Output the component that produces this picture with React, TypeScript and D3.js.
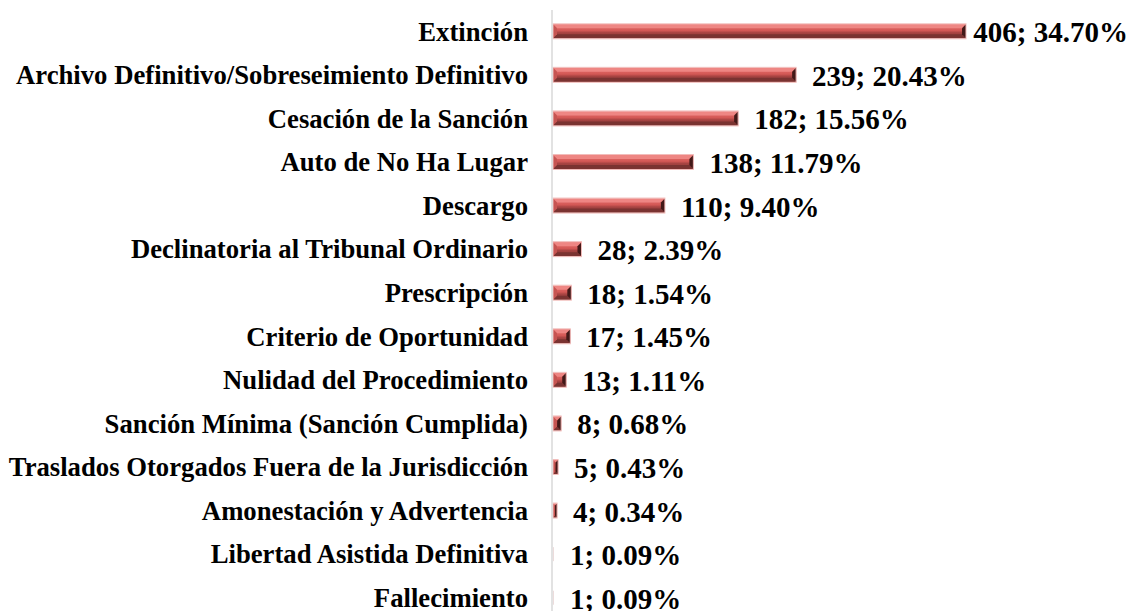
import React from "react";
import * as d3 from "d3";

const categories = [
  "Extinción",
  "Archivo Definitivo/Sobreseimiento Definitivo",
  "Cesación de la Sanción",
  "Auto de No Ha Lugar",
  "Descargo",
  "Declinatoria al Tribunal Ordinario",
  "Prescripción",
  "Criterio de Oportunidad",
  "Nulidad del Procedimiento",
  "Sanción Mínima (Sanción Cumplida)",
  "Traslados Otorgados Fuera de la Jurisdicción",
  "Amonestación y Advertencia",
  "Libertad Asistida Definitiva",
  "Fallecimiento",
];
const counts = [406, 239, 182, 138, 110, 28, 18, 17, 13, 8, 5, 4, 1, 1];
const percents = ["34.70%", "20.43%", "15.56%", "11.79%", "9.40%", "2.39%", "1.54%", "1.45%", "1.11%", "0.68%", "0.43%", "0.34%", "0.09%", "0.09%"];

const W = 1136;
const H = 611;
const family = "'Liberation Serif', 'Times New Roman', serif";
const catSize = 26.7;
const valSize = 29;

function measure(text: string, size: number): number {
  const c = document.createElement("canvas");
  const ctx = c.getContext("2d");
  if (!ctx) return text.length * size * 0.5;
  ctx.font = `bold ${size}px ${family}`;
  return ctx.measureText(text).width;
}

export default function App() {
  const x = d3.scaleLinear().domain([0, 406]).range([553, 966]);
  const y = d3.scaleBand<string>().domain(categories).range([10, 620]);
  const barH = 14;
  const axisX = 552;
  const labelRight = 528;
  const maxRight = 1128;

  return (
    <div style={{ position: "fixed", left: 0, top: 0, width: W, height: H, background: "#fff" }}>
      <svg width={W} height={H} style={{ display: "block" }}>
        <defs>
          <linearGradient id="face" x1="0" y1="0" x2="0" y2="1">
            <stop offset="0" stopColor="#e8716e" />
            <stop offset="0.45" stopColor="#d35855" />
            <stop offset="0.6" stopColor="#a84442" />
            <stop offset="1" stopColor="#8a3937" />
          </linearGradient>
        </defs>
        {categories.map((cat, i) => {
          const cy = (y(cat) as number) + y.bandwidth() / 2;
          const x0 = x(0);
          const x1 = x(counts[i]);
          const y0 = cy - barH / 2 - 0.5;
          const y1 = y0 + barH;
          const w = x1 - x0;
          const b = Math.min(4, w / 2);
          const label = `${counts[i]}; ${percents[i]}`;
          const lw = measure(label, valSize);
          let lx = x1 + 16;
          if (lx + lw > maxRight) lx = maxRight - lw;
          return (
            <g key={cat}>
              <text
                x={labelRight}
                y={cy}
                dy="0.33em"
                textAnchor="end"
                fontFamily={family}
                fontWeight="bold"
                fontSize={catSize}
                fill="#000"
              >
                {cat}
              </text>
              {w > 3 && (
                <g>
                  <rect x={x0} y={y0} width={w} height={barH} fill="url(#face)" />
                  <polygon points={`${x0},${y0} ${x1},${y0} ${x1 - b},${y0 + b} ${x0 + b},${y0 + b}`} fill="#ee8683" />
                  <polygon points={`${x0},${y1} ${x1},${y1} ${x1 - b},${y1 - b} ${x0 + b},${y1 - b}`} fill="#7a3331" />
                  <polygon points={`${x0},${y0} ${x0 + b},${y0 + b} ${x0 + b},${y1 - b} ${x0},${y1}`} fill="#c65552" />
                  <polygon points={`${x1},${y0} ${x1 - b},${y0 + b} ${x1 - b},${y1 - b} ${x1},${y1}`} fill="#431918" />
                  <rect x={x0} y={y0 - 0.5} width={w} height={barH + 1} fill="none" stroke="#f2bcba" strokeWidth={1} />
                </g>
              )}
              {w > 0 && w <= 3 && (
                <rect x={x0} y={y0} width={w} height={barH} fill="#ecdcdc" />
              )}
              <text
                x={lx}
                y={cy}
                dy="0.36em"
                fontFamily={family}
                fontWeight="bold"
                fontSize={valSize}
                fill="#000"
              >
                {label}
              </text>
            </g>
          );
        })}
        <line x1={axisX} x2={axisX} y1={10} y2={H} stroke="#d9d9d9" strokeWidth={1.5} />
      </svg>
    </div>
  );
}
